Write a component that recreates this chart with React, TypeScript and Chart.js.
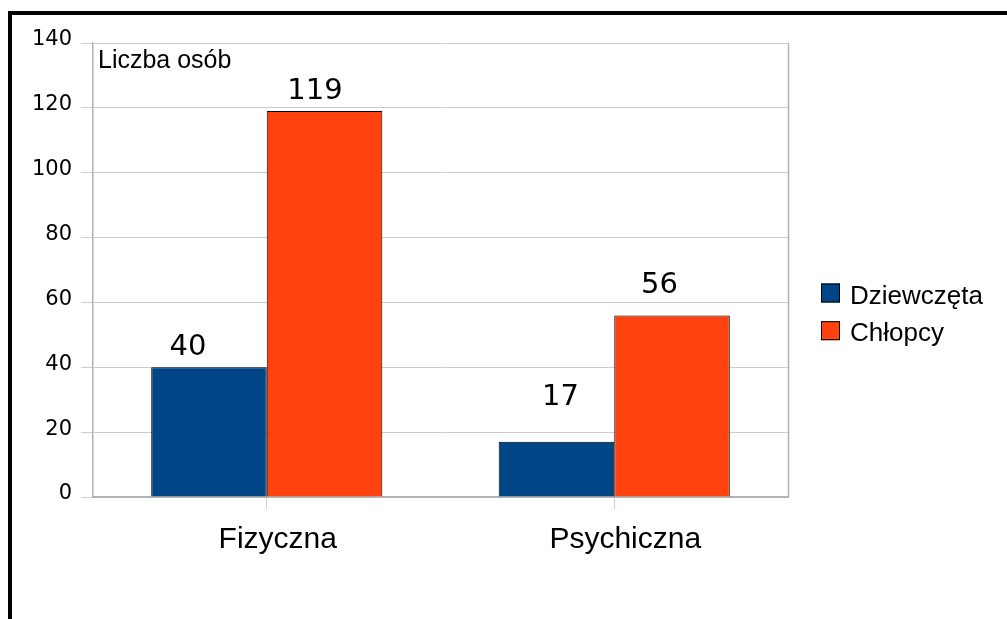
import React, { useEffect, useRef } from "react";
import { Chart, registerables } from "chart.js";

Chart.register(...registerables);

// ---- data ----
const categories = ["Fizyczna", "Psychiczna"];
const seriesNames = ["Dziewczęta", "Chłopcy"];
const girlsValues = [40, 17];
const boysValues = [119, 56];
const yMin = 0;
const yMax = 140;
const yStep = 20;
const axisTitle = "Liczba osób";

// ---- styles ----
const seriesColors = ["#004586", "#ff420e"];
// value-label offsets (dx, dy) from the top-centre of each bar, per series / category
const labelOffsets = [
  [[-21, -12.7], [4, -36.7]],
  [[-9.5, -12.6], [-12.5, -22]],
];

const W = 995;
const H = 604;

const frameLines = {
  id: "frameLines",
  afterDatasetsDraw(chart: any) {
    const { ctx, chartArea } = chart;
    ctx.save();
    ctx.strokeStyle = "#b3b3b3";
    ctx.lineWidth = 1.5;
    ctx.beginPath();
    ctx.moveTo(Math.round(chartArea.right) + 0.5, chartArea.top);
    ctx.lineTo(Math.round(chartArea.right) + 0.5, chartArea.bottom);
    ctx.stroke();
    ctx.restore();
  },
};

const valueLabels = {
  id: "valueLabels",
  afterDatasetsDraw(chart: any) {
    const { ctx } = chart;
    ctx.save();
    ctx.font = "29px 'DejaVu Sans'";
    ctx.fillStyle = "#000";
    ctx.textAlign = "center";
    ctx.textBaseline = "alphabetic";
    chart.data.datasets.forEach((ds: any, i: number) => {
      const meta = chart.getDatasetMeta(i);
      meta.data.forEach((bar: any, j: number) => {
        const off = labelOffsets[i][j];
        ctx.fillText(String(ds.data[j]), bar.x + off[0], bar.y + off[1]);
      });
    });
    ctx.restore();
  },
};

const sideLegend = {
  id: "sideLegend",
  afterDraw(chart: any) {
    const { ctx, chartArea } = chart;
    ctx.save();
    const x0 = chartArea.right + 33;
    const y0 = 268.5;
    const rowH = 37.7;
    chart.data.datasets.forEach((ds: any, i: number) => {
      const y = y0 + i * rowH;
      ctx.fillStyle = ds.backgroundColor;
      ctx.fillRect(x0, y, 19, 19);
      ctx.strokeStyle = "#000";
      ctx.lineWidth = 1;
      ctx.strokeRect(x0 + 0.5, y + 0.5, 18, 18);
      ctx.fillStyle = "#000";
      ctx.font = "26px 'Liberation Sans'";
      ctx.textAlign = "left";
      ctx.textBaseline = "alphabetic";
      ctx.fillText(ds.label, x0 + 29, y + 20);
    });
    ctx.restore();
  },
};

const titleInside = {
  id: "titleInside",
  afterDraw(chart: any) {
    const { ctx, chartArea } = chart;
    ctx.save();
    ctx.fillStyle = "#000";
    ctx.font = "25px 'Liberation Sans'";
    ctx.textAlign = "left";
    ctx.textBaseline = "alphabetic";
    ctx.fillText(axisTitle, chartArea.left + 5, chartArea.top + 25);
    ctx.restore();
  },
};

export default function App() {
  const ref = useRef<HTMLCanvasElement | null>(null);

  useEffect(() => {
    if (!ref.current) return;
    const chart = new Chart(ref.current, {
      type: "bar",
      data: {
        labels: categories,
        datasets: [
          {
            label: seriesNames[0],
            data: girlsValues,
            backgroundColor: seriesColors[0],
            borderColor: "#000",
            borderWidth: 1,
            categoryPercentage: 0.665,
            barPercentage: 1,
          },
          {
            label: seriesNames[1],
            data: boysValues,
            backgroundColor: seriesColors[1],
            borderColor: "#000",
            borderWidth: 1,
            categoryPercentage: 0.665,
            barPercentage: 1,
          },
        ],
      },
      options: {
        responsive: false,
        animation: false,
        devicePixelRatio: 1,
        layout: { padding: { top: 28, right: 219, bottom: 0, left: 0 } },
        plugins: {
          legend: { display: false },
          tooltip: { enabled: false },
        },
        scales: {
          x: {
            afterFit: (s: any) => {
              s.height = H - 482;
            },
            grid: {
              display: true,
              drawOnChartArea: false,
              drawTicks: true,
              offset: false,
              tickLength: 12,
              color: "#cccccc",
            },
            border: { display: true, color: "#b3b3b3", width: 2 },
            ticks: {
              color: "#000",
              font: { family: "'Liberation Sans'", size: 30 },
              padding: 13,
              labelOffset: 11,
            },
          },
          y: {
            min: yMin,
            max: yMax,
            afterFit: (s: any) => {
              s.width = 81;
            },
            grid: {
              color: "#cccccc",
              lineWidth: 1,
              drawTicks: true,
              tickLength: 12,
            },
            border: { display: true, color: "#b3b3b3", width: 1.5 },
            ticks: {
              stepSize: yStep,
              color: "#000",
              font: { family: "'DejaVu Sans'", size: 21 },
              padding: 9,
              labelOffset: -3,
            },
          },
        },
      },
      plugins: [frameLines, valueLabels, sideLegend, titleInside],
    });
    return () => chart.destroy();
  }, []);

  return (
    <div
      style={{
        position: "fixed",
        left: 8,
        top: 11,
        right: 0,
        bottom: 0,
        borderTop: "4px solid #000",
        borderLeft: "4px solid #000",
        background: "#fff",
        overflow: "hidden",
      }}
    >
      <canvas ref={ref} width={W} height={H} style={{ display: "block", width: W, height: H }} />
    </div>
  );
}
